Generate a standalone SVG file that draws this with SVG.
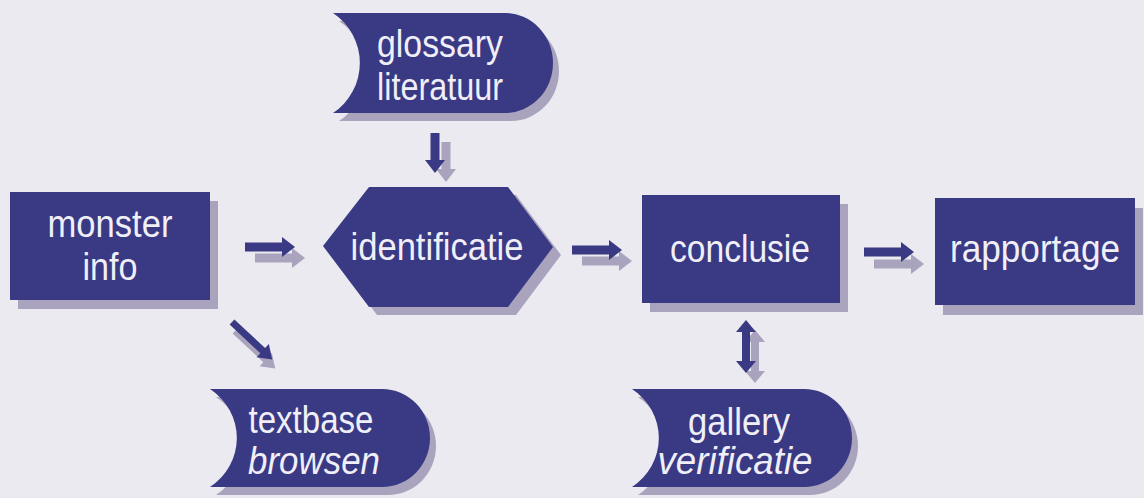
<svg xmlns="http://www.w3.org/2000/svg" width="1144" height="498" viewBox="0 0 1144 498">
  <defs>
    <style>
      .bg { fill: #eaeaf0; }
      .node { fill: #393984; }
      .shadow { fill: #aaa3bd; }
      .lbl { font-family: "Liberation Sans", Arial, sans-serif; font-size: 38px; fill: #f0eff8; text-anchor: middle; }
      .it { font-style: italic; }
      .dark { fill: #393984; }
      .light { fill: #aaa3bd; }
    </style>
    <path id="harrow" d="M0,-4.5 H37 V-10 L50,0 L37,10 V4.5 H0 Z"/>
    <path id="varrow" d="M-4.5,0 V27 H-10 L0,40 L10,27 H4.5 V0 Z"/>
    <path id="diag" d="M0,-3.5 H42 V-9 L55,0 L42,9 V3.5 H0 Z"/>
    <path id="dbl" d="M0,0 L10,12 H4 V41 H10 L0,53 L-10,41 H-4 V12 H-10 Z"/>
    <path id="capsule" d="M0,0 H172 A48,50 0 0 1 220,50 A48,50 0 0 1 172,100 H0 A60,60 0 0 0 0,0 Z"/>
  </defs>

  <rect class="bg" x="0" y="0" width="1144" height="498"/>

  <g id="connectors">
    <!-- glossary -> identificatie -->
    <use href="#varrow" class="light" transform="translate(446,142)"/>
    <use href="#varrow" class="dark" transform="translate(435,133)"/>
    <!-- monster -> identificatie -->
    <use href="#harrow" class="light" transform="translate(255,258)"/>
    <use href="#harrow" class="dark" transform="translate(245,247)"/>
    <!-- identificatie -> conclusie -->
    <use href="#harrow" class="light" transform="translate(582,261)"/>
    <use href="#harrow" class="dark" transform="translate(572,250)"/>
    <!-- conclusie -> rapportage -->
    <use href="#harrow" class="light" transform="translate(874,264)"/>
    <use href="#harrow" class="dark" transform="translate(864,252)"/>
    <!-- monster -> textbase -->
    <use href="#diag" class="light" transform="translate(235,331) rotate(43)"/>
    <use href="#diag" class="dark" transform="translate(232,322) rotate(43)"/>
    <!-- conclusie <-> gallery -->
    <use href="#dbl" class="light" transform="translate(755,330)"/>
    <use href="#dbl" class="dark" transform="translate(746,320)"/>
  </g>

  <g id="node-glossary">
    <use href="#capsule" class="shadow" transform="translate(339,21)"/>
    <use href="#capsule" class="node" transform="translate(333,13)"/>
    <text class="lbl" x="440" y="57" textLength="126" lengthAdjust="spacingAndGlyphs">glossary</text>
    <text class="lbl" x="440" y="100" textLength="126" lengthAdjust="spacingAndGlyphs">literatuur</text>
  </g>

  <g id="node-monster">
    <rect class="shadow" x="18" y="201" width="200" height="108"/>
    <rect class="node" x="10" y="192" width="200" height="108"/>
    <text class="lbl" x="110" y="237" textLength="125" lengthAdjust="spacingAndGlyphs">monster</text>
    <text class="lbl" x="110" y="280" textLength="55" lengthAdjust="spacingAndGlyphs">info</text>
  </g>

  <g id="node-identificatie">
    <polygon class="shadow" points="331,254 377,195 516,195 561,255 516,315 377,315"/>
    <polygon class="node" points="323,246 369,187 508,187 553,247 508,307 369,307"/>
    <text class="lbl" x="437" y="260" textLength="173" lengthAdjust="spacingAndGlyphs">identificatie</text>
  </g>

  <g id="node-conclusie">
    <rect class="shadow" x="650" y="204" width="198" height="108"/>
    <rect class="node" x="642" y="195" width="198" height="108"/>
    <text class="lbl" x="740" y="262" textLength="140" lengthAdjust="spacingAndGlyphs">conclusie</text>
  </g>

  <g id="node-rapportage">
    <rect class="shadow" x="943" y="208" width="200" height="107"/>
    <rect class="node" x="935" y="198" width="200" height="107"/>
    <text class="lbl" x="1035" y="262" textLength="170" lengthAdjust="spacingAndGlyphs">rapportage</text>
  </g>

  <g id="node-textbase">
    <use href="#capsule" class="shadow" transform="translate(216,397) scale(1,0.98)"/>
    <use href="#capsule" class="node" transform="translate(210,389) scale(1,0.98)"/>
    <text class="lbl" x="311" y="433" textLength="125" lengthAdjust="spacingAndGlyphs">textbase</text>
    <text class="lbl it" x="314" y="474" textLength="132" lengthAdjust="spacingAndGlyphs">browsen</text>
  </g>

  <g id="node-gallery">
    <use href="#capsule" class="shadow" transform="translate(638,397) scale(1,0.98)"/>
    <use href="#capsule" class="node" transform="translate(632,389) scale(1,0.98)"/>
    <text class="lbl" x="739" y="435" textLength="102" lengthAdjust="spacingAndGlyphs">gallery</text>
    <text class="lbl it" x="735" y="474" textLength="155" lengthAdjust="spacingAndGlyphs">verificatie</text>
  </g>
</svg>
